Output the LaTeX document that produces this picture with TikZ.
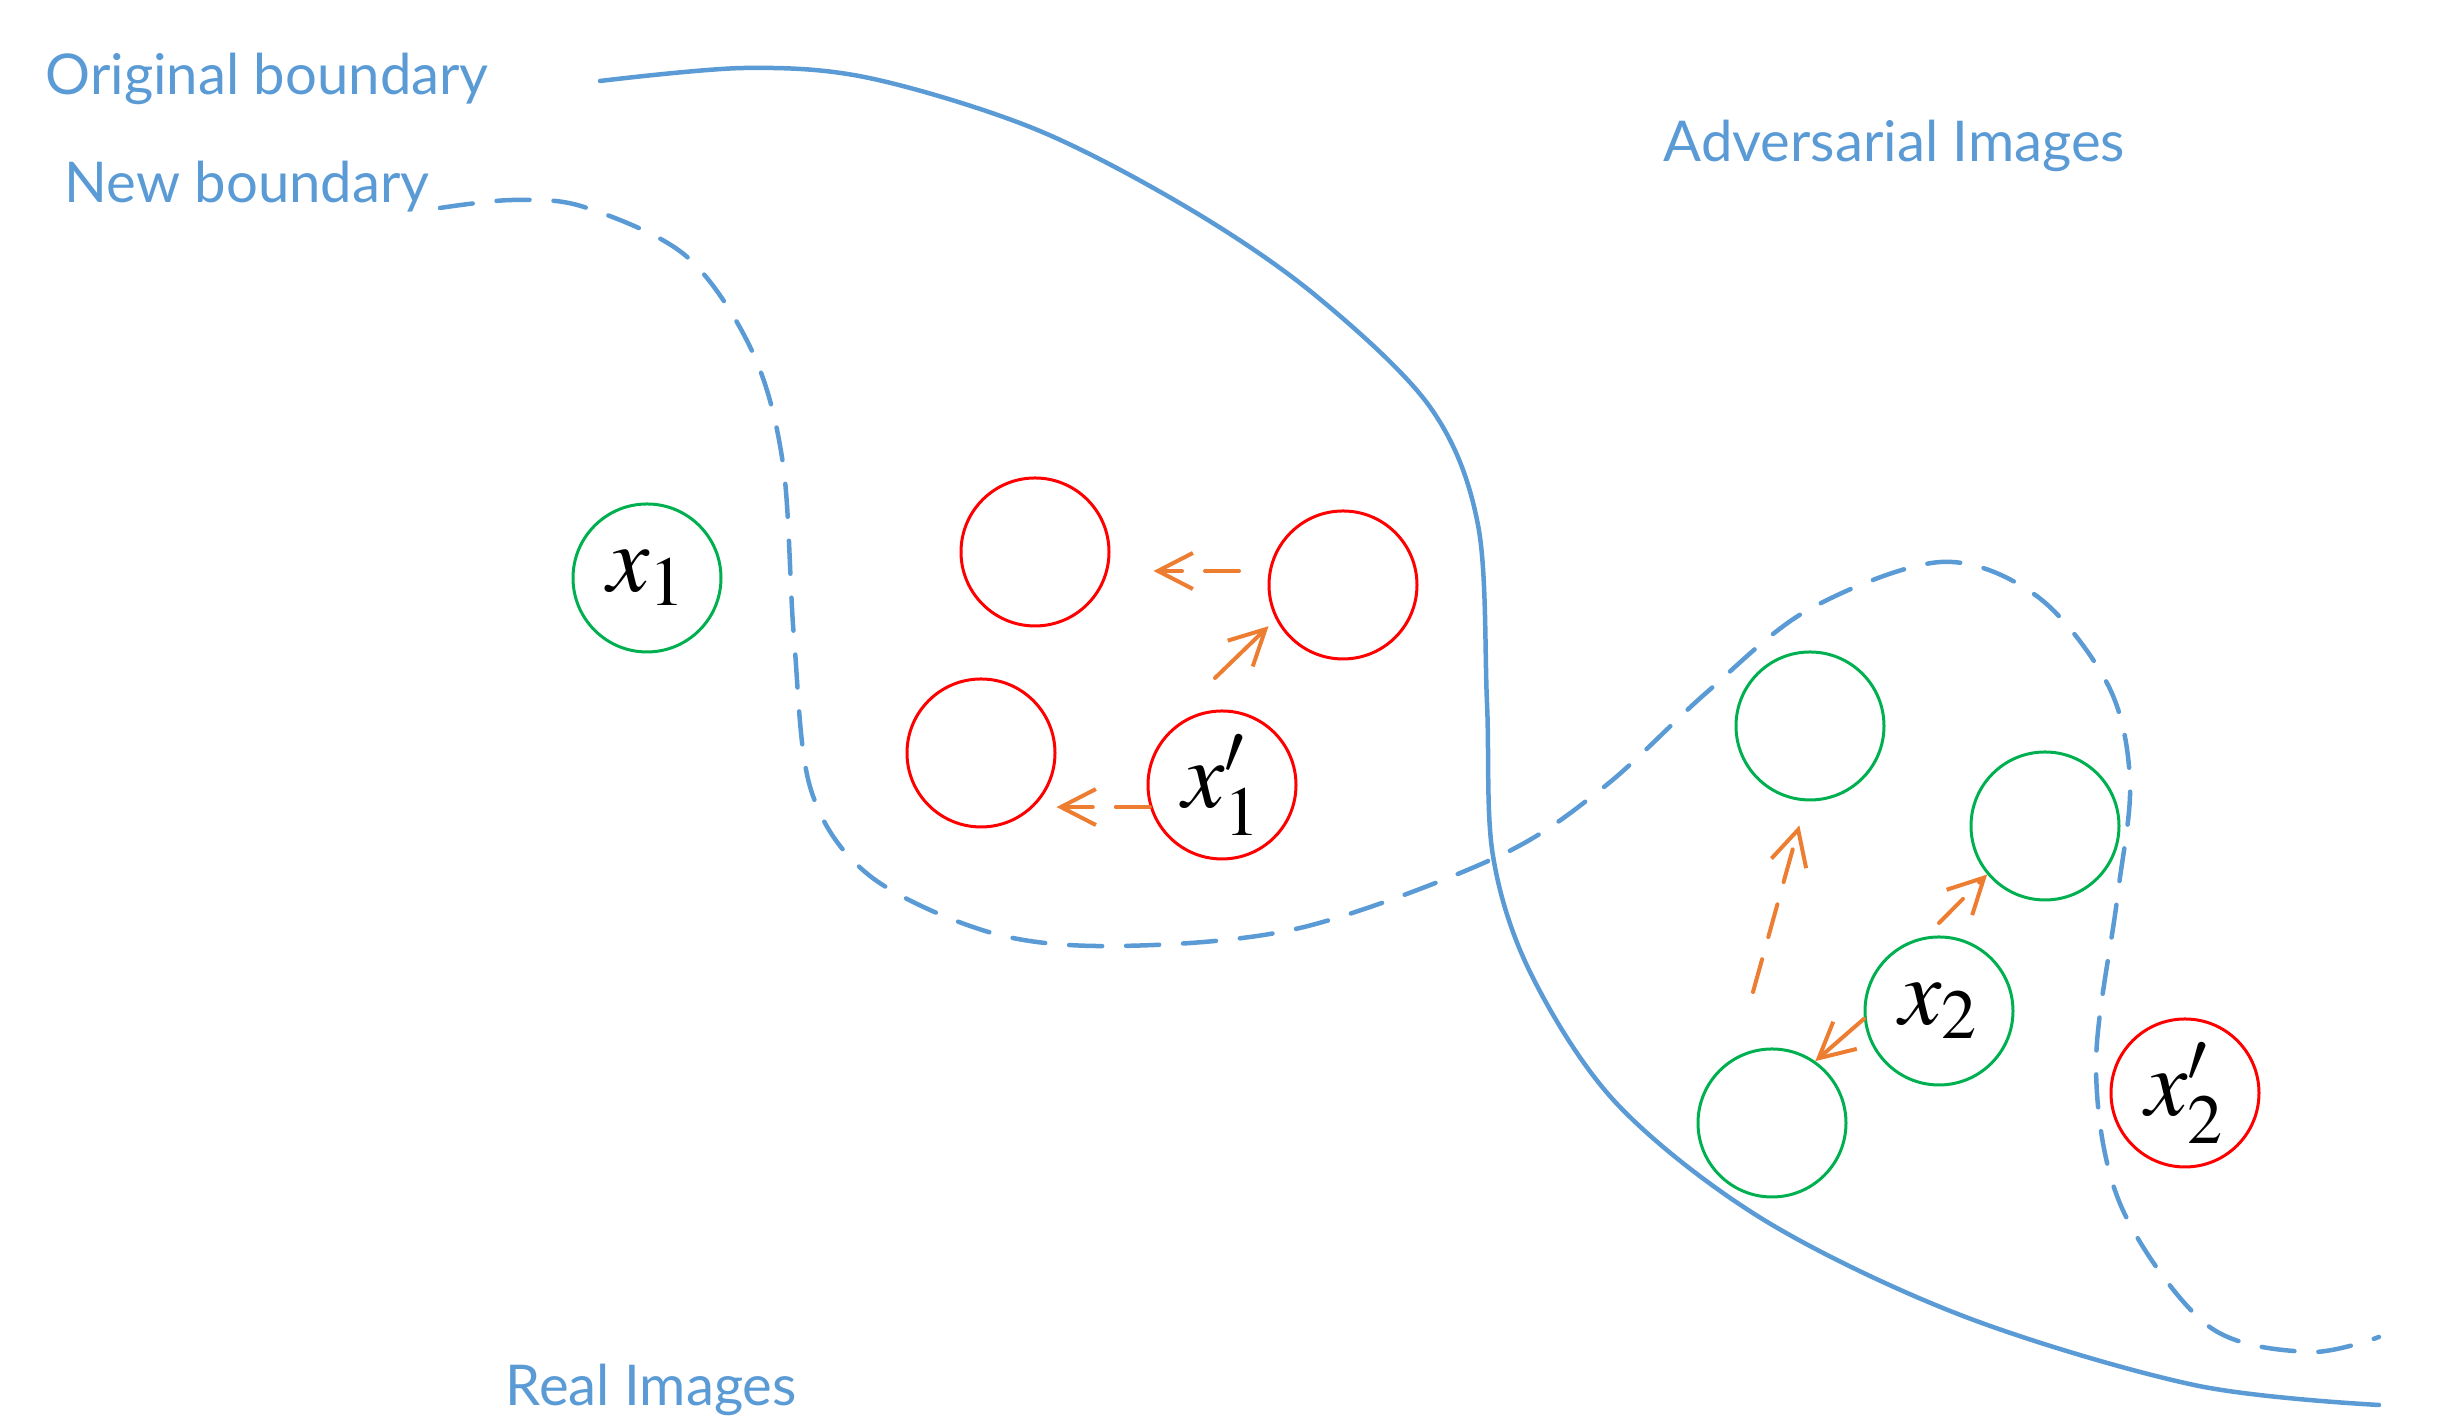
\documentclass[tikz,border=0pt]{standalone}
\usepackage{mathptmx}
\usepackage{fontspec}
\setmainfont{Lato}
\usetikzlibrary{positioning,arrows.meta}
\definecolor{bndblue}{HTML}{5B9BD5}
\definecolor{ptred}{HTML}{FF0000}
\definecolor{ptgreen}{HTML}{00B050}
\definecolor{mvorange}{HTML}{ED7D31}

\begin{document}
\begin{tikzpicture}[
  bnd/.style={bndblue,line width=0.45mm,line cap=round},
  newbnd/.style={bnd,dash pattern=on 3.3mm off 2.4mm},
  pt/.style={circle,draw,line width=0.3mm,minimum size=14.8mm,inner sep=0pt,font=\fontsize{27}{30}\selectfont},
  ptreal/.style={pt,draw=ptgreen},
  ptadv/.style={pt,draw=ptred},
  mv/.style={mvorange,line width=0.4mm,line cap=round,-{Straight Barb[length=3.5mm,width=3.6mm]}},
  mvdash/.style={mv,dash pattern=on 3.4mm off 2.3mm},
  lbl/.style={bndblue,font=\fontsize{16}{19}\selectfont,anchor=base west,inner sep=0pt}
]
\useasboundingbox (0,0) rectangle (24.38,14.21);

% original boundary
\draw[bnd] plot[smooth,tension=0.55] coordinates {(6.00,13.40) (7.45,13.53) (8.69,13.43) (10.35,12.92) (11.88,12.13) (13.15,11.26) (14.30,10.14) (14.78,8.96) (14.87,7.18) (14.93,5.65) (15.32,4.45) (16.18,3.16) (17.64,2.01) (19.63,1.05) (21.94,0.36) (23.79,0.16)};
% new boundary
\draw[newbnd] plot[smooth,tension=0.55] coordinates {(4.40,12.13) (5.13,12.21) (5.84,12.14) (6.86,11.65) (7.52,10.70) (7.83,9.57) (7.94,7.83) (8.11,6.31) (8.70,5.45) (9.92,4.88) (11.20,4.75) (13.00,4.93) (14.97,5.64) (16.04,6.34) (17.06,7.28) (18.08,8.11) (19.41,8.59) (20.38,8.24) (21.09,7.34) (21.30,6.38) (21.17,5.21) (20.96,3.53) (21.21,2.15) (22.07,0.96) (23.07,0.69) (23.79,0.84)};

\node[lbl] (torig) at (0.45,13.26) {Original boundary};
\node[lbl] (tnew) at (0.64,12.18) {New boundary};
\node[lbl] (tadv) at (16.63,12.59) {Adversarial Images};
\node[lbl] (treal) at (5.05,0.15) {Real Images};

% left group
\node[ptreal] (x1) at (6.47,8.43) {$x_1$};
\node[ptadv] (a1) at (10.35,8.69) {};
\node[ptadv] (a2) at (13.43,8.36) {};
\node[ptadv] (a3) at (9.81,6.68) {};
\node[ptadv] (x1a) at (12.22,6.36) {$x'_1$};

% right group
\node[ptreal] (r1) at (18.10,6.95) {};
\node[ptreal] (r2) at (20.45,5.95) {};
\node[ptreal] (x2) at (19.39,4.10) {$x_2$};
\node[ptreal] (r3) at (17.72,2.98) {};
\node[ptadv] (x2a) at (21.85,3.28) {$x'_2$};

% moves
\coordinate (m1) at (12.39,8.50);
\coordinate (m2) at (12.15,7.43);
\coordinate (m4) at (17.53,4.29);
\coordinate (m5) at (19.39,4.98);
\draw[mvdash,shorten >=4.3mm] (m1) -- (m1 -| a1.east);
\draw[mv,shorten >=1mm] (m2) -- (a2.207);
\draw[mvdash] (x1a.197) -- (x1a.197 -| a3.east);
\draw[mvdash,shorten >=2.5mm] (m4) -- (r1.267);
\draw[mvdash] (m5) -- (r2.220);
\draw[mv] (x2.186) -- (r3.55);
\end{tikzpicture}
\end{document}
